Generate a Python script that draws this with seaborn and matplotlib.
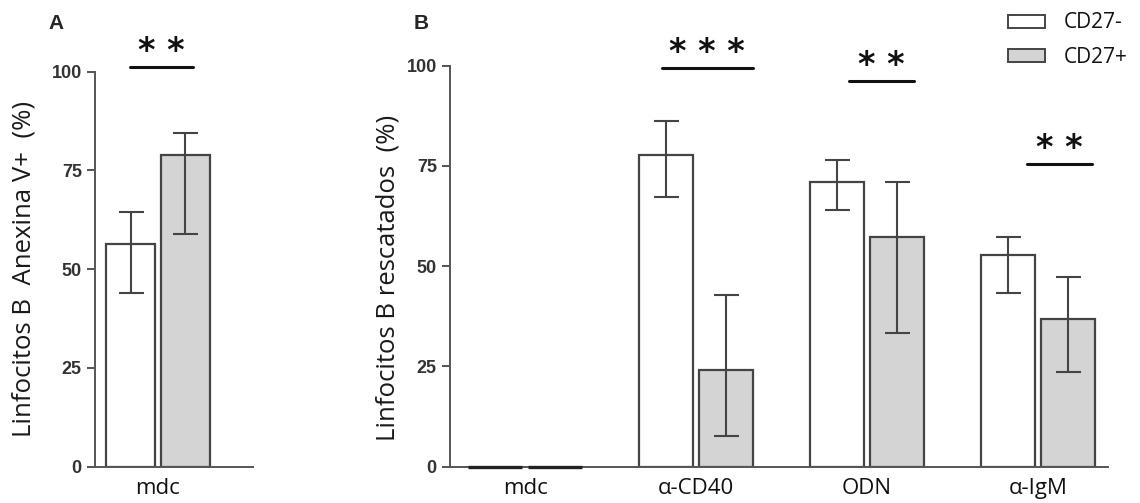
import matplotlib
matplotlib.use("Agg")
import matplotlib.pyplot as plt
from matplotlib.patches import Patch
import pandas as pd
import seaborn as sns

# Panel A: apoptosis (Anexina V+) in CD27- / CD27+ B cells
a_cond = ["mdc"]
a_neg = [56.3]
a_neg_lo = [43.9]
a_neg_hi = [64.5]
a_pos = [78.8]
a_pos_lo = [59.0]
a_pos_hi = [84.6]

# Panel B: rescued B cells per stimulus
b_cond = ["mdc", "\u03b1-CD40", "ODN", "\u03b1-IgM"]
b_neg = [0.0, 77.7, 71.1, 52.8]
b_neg_lo = [0.0, 67.3, 64.0, 43.2]
b_neg_hi = [0.0, 86.2, 76.5, 57.2]
b_pos = [0.0, 24.1, 57.2, 36.8]
b_pos_lo = [0.0, 7.7, 33.4, 23.7]
b_pos_hi = [0.0, 42.8, 71.1, 47.2]

groups = ["CD27-", "CD27+"]
sig_a = ["* *"]
sig_b = {"\u03b1-CD40": "* * *", "ODN": "* *", "\u03b1-IgM": "* *"}

sns.set_style("ticks")
plt.rcParams["font.family"] = ["Open Sans", "DejaVu Sans"]

edge = "#444444"
pal = {"CD27-": "white", "CD27+": "#d4d4d4"}


def make_df(cond, neg, pos):
    return pd.DataFrame({
        "cond": cond * 2,
        "grp": ["CD27-"] * len(cond) + ["CD27+"] * len(cond),
        "val": neg + pos,
    })


def draw(ax, cond, neg, neg_lo, neg_hi, pos, pos_lo, pos_hi):
    df = make_df(cond, neg, pos)
    sns.barplot(data=df, x="cond", y="val", hue="grp", order=cond, hue_order=groups,
                palette=pal, edgecolor=edge, linewidth=1.6, width=0.7, gap=0.1,
                errorbar=None, legend=False, ax=ax)
    lows = [neg_lo, pos_lo]
    highs = [neg_hi, pos_hi]
    vals = [neg, pos]
    bar_sets = list(ax.containers)[:2]
    for k, cont in enumerate(bar_sets):
        for i, bar in enumerate(cont):
            if vals[k][i] == 0:
                # empty condition: the flat bar shows as a dark line on the axis
                bar.set_linewidth(2.4)
                bar.set_edgecolor("#222222")
                bar.set_zorder(3)
                bar.set_clip_on(False)
                continue
            xc = bar.get_x() + bar.get_width() / 2
            ax.errorbar(xc, vals[k][i],
                        yerr=[[vals[k][i] - lows[k][i]], [highs[k][i] - vals[k][i]]],
                        color=edge, lw=1.5, capsize=9, capthick=1.5, zorder=3)
    ax.set_ylim(0, 100)
    ax.set_yticks([0, 25, 50, 75, 100])
    ax.set_xlabel("")
    sns.despine(ax=ax)
    for s in ["left", "bottom"]:
        ax.spines[s].set_color("#555555")
        ax.spines[s].set_linewidth(1.4)
    ax.tick_params(axis="y", length=6, width=1.4, color="#555555", labelcolor="#333333")
    ax.tick_params(axis="x", length=0, labelsize=16, labelcolor="#111111", pad=8)
    for t in ax.get_yticklabels():
        t.set_fontfamily("Liberation Sans")
        t.set_fontweight("bold")
        t.set_fontsize(13)


def sig(ax, x0, x1, y, text):
    ax.plot([x0, x1], [y, y], color="#111111", lw=2.2, clip_on=False)
    ax.text((x0 + x1) / 2, y + 1.4, text, ha="center", va="baseline",
            fontsize=24, fontweight="bold", family="DejaVu Sans", color="#111111")


fig = plt.figure(figsize=(11.4, 5.03), dpi=100)
axA = fig.add_axes([95 / 1140, 1 - 466.7 / 503, 158 / 1140, 395 / 503])
axB = fig.add_axes([450 / 1140, 1 - 466.7 / 503, 658 / 1140, 401 / 503])

draw(axA, a_cond, a_neg, a_neg_lo, a_neg_hi, a_pos, a_pos_lo, a_pos_hi)
draw(axB, b_cond, b_neg, b_neg_lo, b_neg_hi, b_pos, b_pos_lo, b_pos_hi)

axA.set_xlim(-0.406, 0.613)
axB.set_xlim(-0.44, 3.41)

axA.set_ylabel("Linfocitos B  Anexina V+  (%)", fontsize=18.5, color="#1a1a1a")
axA.yaxis.set_label_coords(-0.37, 0.5)
axB.set_ylabel("Linfocitos B rescatados  (%)", fontsize=18.5, color="#1a1a1a")
axB.yaxis.set_label_coords(-0.075, 0.47)

sig(axA, -0.18, 0.226, 101.2, sig_a[0])
sig_pos = {"\u03b1-CD40": (-0.2, 0.33, 99.4), "ODN": (-0.105, 0.275, 96.2),
           "\u03b1-IgM": (-0.064, 0.316, 75.5)}
for c, txt in sig_b.items():
    i = b_cond.index(c)
    x0, x1, y = sig_pos[c]
    sig(axB, i + x0, i + x1, y, txt)

fig.text(48 / 1140, 1 - 24 / 503, "A", fontsize=15, fontweight="bold",
         family="Liberation Sans", ha="left", va="center")
fig.text(414 / 1140, 1 - 24 / 503, "B", fontsize=15, fontweight="bold",
         family="Liberation Sans", ha="left", va="center")

handles = [Patch(facecolor=pal[g], edgecolor=edge, linewidth=1.4) for g in groups]
leg = fig.legend(handles, groups, loc="upper right", bbox_to_anchor=(1.0, 1.0),
                 frameon=False, fontsize=15, handlelength=1.75, handleheight=0.6,
                 labelspacing=0.65, handletextpad=0.9, borderaxespad=0.2)
for t in leg.get_texts():
    t.set_color("#111111")

fig.savefig("out.png", dpi=100)
